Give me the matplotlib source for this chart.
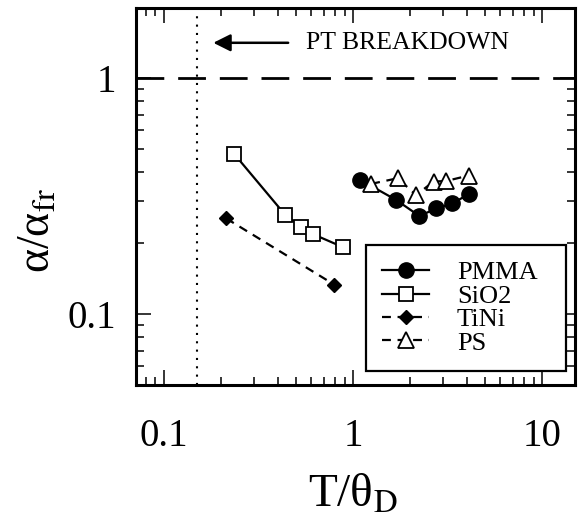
import matplotlib
matplotlib.use("Agg")
import matplotlib.pyplot as plt
from matplotlib.ticker import FixedLocator, FixedFormatter, LogLocator, NullFormatter

plt.rcParams['font.family'] = ['Liberation Serif', 'DejaVu Serif']
plt.rcParams['mathtext.fontset'] = 'stix'

# data
pmma_x = [1.09, 1.69, 2.24, 2.75, 3.35, 4.08]
pmma_y = [0.370, 0.304, 0.260, 0.280, 0.294, 0.322]
sio2_x = [0.235, 0.437, 0.528, 0.612, 0.882]
sio2_y = [0.476, 0.263, 0.234, 0.218, 0.192]
tini_x = [0.213, 0.796]
tini_y = [0.254, 0.133]
ps_x = [1.245, 1.72, 2.15, 2.66, 3.10, 4.08]
ps_y = [0.356, 0.376, 0.319, 0.364, 0.366, 0.386]

x_ticks = [0.1, 1, 10]
x_labels = ['0.1', '1', '10']
y_ticks = [0.1, 1]
y_labels = ['0.1', '1']

breakdown_x = 0.15
ref_y = 1.0

fig = plt.figure(figsize=(5.82, 5.23), dpi=100)
ax = fig.add_axes([136/582, 1-385/523, 439/582, 377/523])
ax.set_xscale('log')
ax.set_yscale('log')
ax.set_xlim(0.071, 14.9)
ax.set_ylim(0.05, 1.98)

ax.plot(pmma_x, pmma_y, '-', color='black', lw=1.6, marker='o', ms=11,
        mfc='black', mec='black', label='PMMA', zorder=4)
ax.plot(sio2_x, sio2_y, '-', color='black', lw=1.6, marker='s', ms=10.5,
        mfc='white', mec='black', mew=1.3, label='SiO2', zorder=3)
ax.plot(tini_x, tini_y, '--', color='black', lw=1.6, dashes=(4, 3), marker='D',
        ms=7, mfc='black', mec='black', label='TiNi', zorder=3)
ax.plot(ps_x, ps_y, '--', color='black', lw=1.6, dashes=(4, 3), marker='^',
        ms=11.5, mfc='white', mec='black', mew=1.3, label='PS', zorder=5)

ax.axhline(ref_y, color='black', lw=2, dashes=(10, 5), zorder=2)
ax.axvline(breakdown_x, color='black', lw=1.5, ls=(0, (1, 3)), zorder=2)

ax.annotate('', xy=(0.182, 1.41), xytext=(0.453, 1.41),
            arrowprops=dict(arrowstyle='-|>', color='black', lw=1.8,
                            mutation_scale=26, shrinkA=0, shrinkB=0))
ax.text(0.564, 1.41, 'PT BREAKDOWN', fontsize=18.5, va='center', ha='left')

ax.xaxis.set_major_locator(FixedLocator(x_ticks))
ax.xaxis.set_major_formatter(FixedFormatter(x_labels))
ax.yaxis.set_major_locator(FixedLocator(y_ticks))
ax.yaxis.set_major_formatter(FixedFormatter(y_labels))
ax.xaxis.set_minor_locator(LogLocator(base=10, subs=range(2, 10), numticks=20))
ax.yaxis.set_minor_locator(LogLocator(base=10, subs=range(2, 10), numticks=20))
ax.xaxis.set_minor_formatter(NullFormatter())
ax.yaxis.set_minor_formatter(NullFormatter())

ax.tick_params(which='both', direction='in', top=True, right=True, width=1.1)
ax.tick_params(which='major', length=11, labelsize=28)
ax.tick_params(axis='x', which='major', pad=24)
ax.tick_params(axis='y', which='major', pad=14)
ax.tick_params(which='minor', length=6)
for sp in ax.spines.values():
    sp.set_linewidth(2.2)

ax.set_xlabel('T/θ$_{\\mathrm{D}}$', fontsize=34)
ax.set_ylabel('α/α$_{\\mathrm{fr}}$', fontsize=33)
ax.xaxis.set_label_coords(0.494, -0.235)
ax.yaxis.set_label_coords(-0.175, 0.41)

leg = ax.legend(loc='upper left', mode='expand',
                bbox_to_anchor=(366/582, 1-370/523, 200/582, 125/523),
                bbox_transform=fig.transFigure, fontsize=19, frameon=True,
                fancybox=False, edgecolor='black', framealpha=1,
                handlelength=1.8, handletextpad=1.05, labelspacing=0.0,
                borderpad=0.6, borderaxespad=0)
leg.get_frame().set_linewidth(1.6)

fig.savefig('out.png', dpi=100)
